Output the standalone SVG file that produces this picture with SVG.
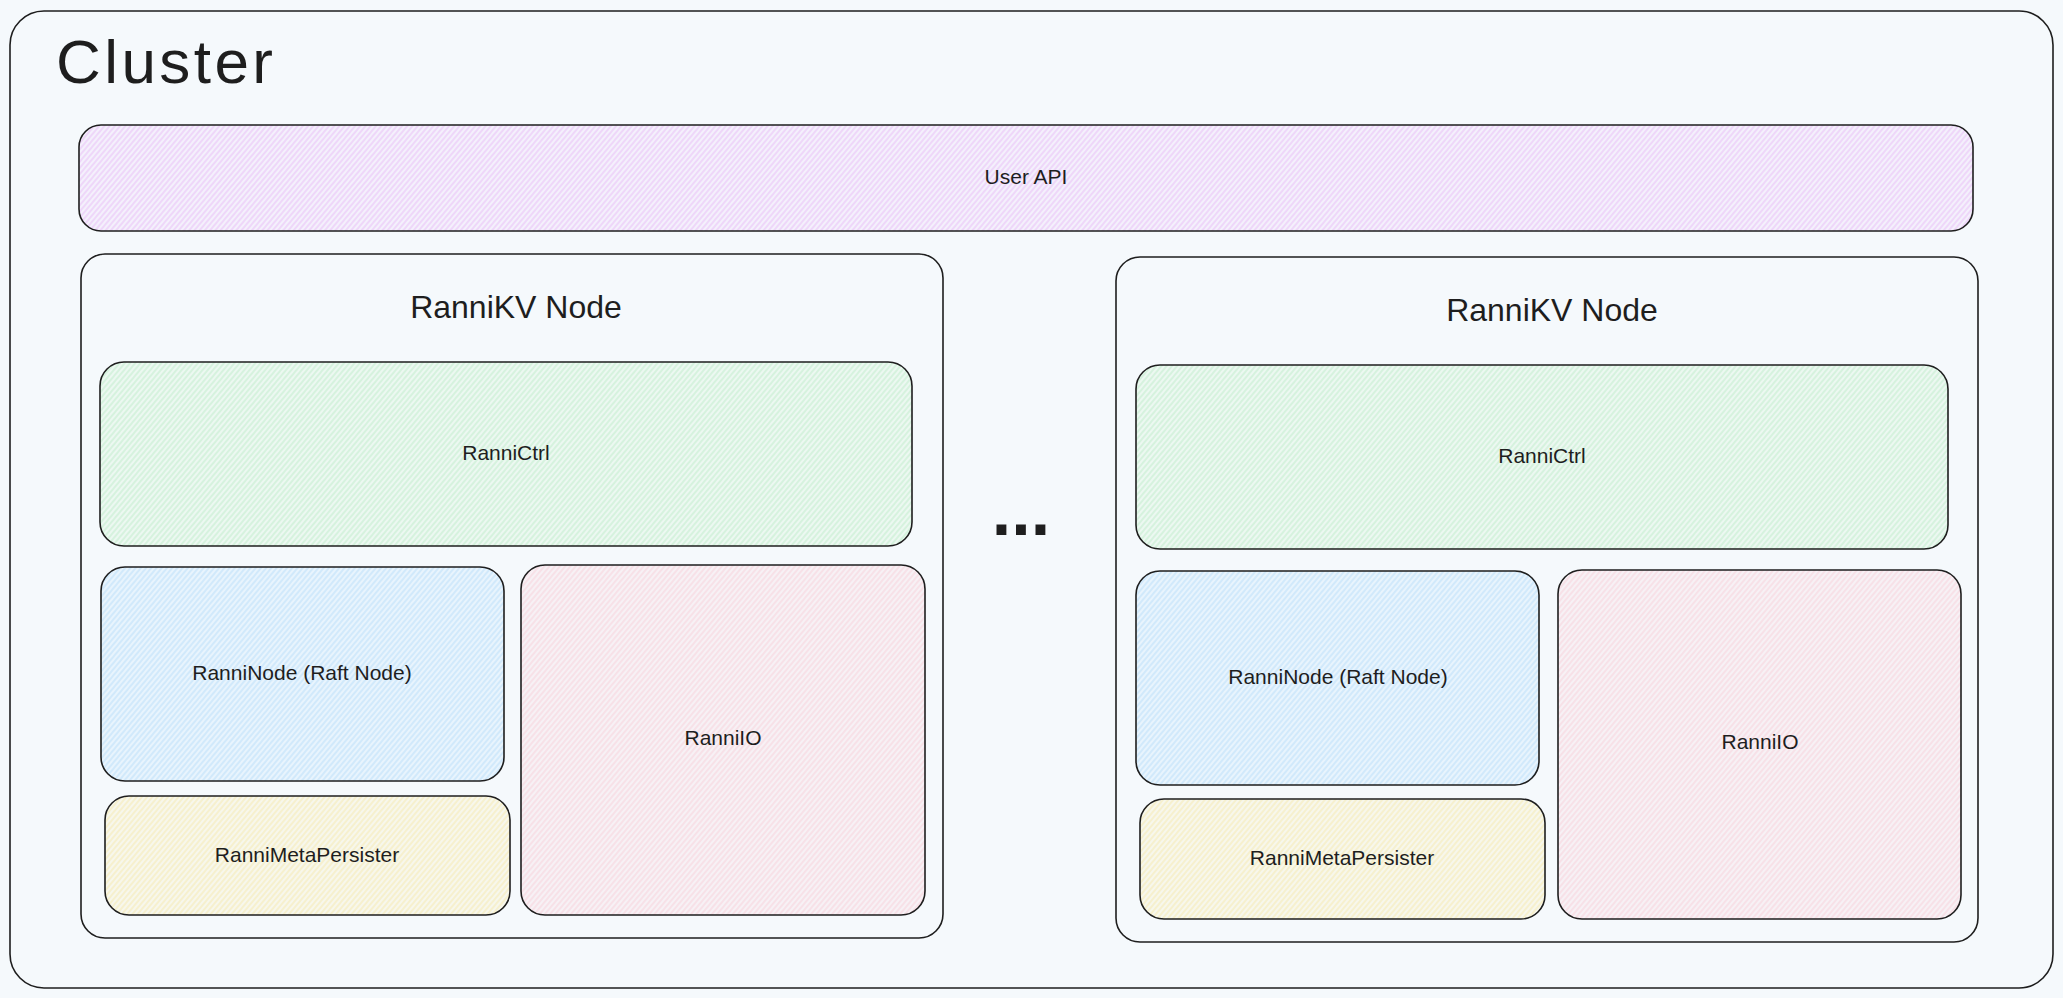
<svg xmlns="http://www.w3.org/2000/svg" width="2063" height="998" viewBox="0 0 2063 998">
  <style>
    .box { stroke: #1e1e1e; stroke-width: 1.6; }
    .frame { fill: none; stroke: #1e1e1e; stroke-width: 1.6; }
    .lbl { font-family: "Liberation Sans", Arial, sans-serif; font-size: 21px; fill: #1e1e1e; text-anchor: middle; }
    .title { font-family: "Liberation Sans", Arial, sans-serif; font-size: 32px; fill: #1e1e1e; text-anchor: middle; }
    .big { font-family: "Liberation Sans", Arial, sans-serif; font-size: 62px; fill: #1e1e1e; }
    .dots { font-family: "Liberation Sans", Arial, sans-serif; font-size: 70px; font-weight: bold; fill: #1e1e1e; text-anchor: middle; }
  </style>
  <defs>
    <pattern id="hPurple" patternUnits="userSpaceOnUse" width="4" height="4" patternTransform="rotate(40)">
      <rect width="4" height="4" fill="#f4f0fc"/>
      <line x1="1" y1="0" x2="1" y2="4" stroke="#e9c3f7" stroke-width="1.1"/>
    </pattern>
    <pattern id="hGreen" patternUnits="userSpaceOnUse" width="4" height="4" patternTransform="rotate(40)">
      <rect width="4" height="4" fill="#ecf8f1"/>
      <line x1="1" y1="0" x2="1" y2="4" stroke="#c4eecf" stroke-width="1.1"/>
    </pattern>
    <pattern id="hBlue" patternUnits="userSpaceOnUse" width="4" height="4" patternTransform="rotate(40)">
      <rect width="4" height="4" fill="#e8f4fd"/>
      <line x1="1" y1="0" x2="1" y2="4" stroke="#bfe1fb" stroke-width="1.1"/>
    </pattern>
    <pattern id="hPink" patternUnits="userSpaceOnUse" width="4" height="4" patternTransform="rotate(40)">
      <rect width="4" height="4" fill="#f7f1f5"/>
      <line x1="1" y1="0" x2="1" y2="4" stroke="#f7d4dd" stroke-width="1.1"/>
    </pattern>
    <pattern id="hYellow" patternUnits="userSpaceOnUse" width="4" height="4" patternTransform="rotate(40)">
      <rect width="4" height="4" fill="#f7f7ec"/>
      <line x1="1" y1="0" x2="1" y2="4" stroke="#f6ebb6" stroke-width="1.1"/>
    </pattern>
  </defs>

  <rect x="0" y="0" width="2063" height="998" fill="#f5f9fc"/>

  <g id="cluster">
    <rect class="frame" x="10" y="11" width="2043" height="977" rx="34"/>
    <text class="big" x="56" y="83" textLength="217" lengthAdjust="spacing">Cluster</text>
  </g>

  <g id="user-api">
    <rect class="box" x="79" y="125" width="1894" height="106" rx="22" fill="url(#hPurple)"/>
    <text class="lbl" x="1026" y="184">User API</text>
  </g>

  <g id="node-1">
    <rect class="frame" x="81" y="254" width="862" height="684" rx="24"/>
    <text class="title" x="516" y="318">RanniKV Node</text>
    <g id="node-1-ctrl">
      <rect class="box" x="100" y="362" width="812" height="184" rx="24" fill="url(#hGreen)"/>
      <text class="lbl" x="506" y="460">RanniCtrl</text>
    </g>
    <g id="node-1-raft">
      <rect class="box" x="101" y="567" width="403" height="214" rx="24" fill="url(#hBlue)"/>
      <text class="lbl" x="302" y="680">RanniNode (Raft Node)</text>
    </g>
    <g id="node-1-meta">
      <rect class="box" x="105" y="796" width="405" height="119" rx="24" fill="url(#hYellow)"/>
      <text class="lbl" x="307" y="862">RanniMetaPersister</text>
    </g>
    <g id="node-1-io">
      <rect class="box" x="521" y="565" width="404" height="350" rx="24" fill="url(#hPink)"/>
      <text class="lbl" x="723" y="745">RanniIO</text>
    </g>
  </g>

  <g id="ellipsis">
    <text class="dots" x="1021" y="535">...</text>
  </g>

  <g id="node-2">
    <rect class="frame" x="1116" y="257" width="862" height="685" rx="24"/>
    <text class="title" x="1552" y="321">RanniKV Node</text>
    <g id="node-2-ctrl">
      <rect class="box" x="1136" y="365" width="812" height="184" rx="24" fill="url(#hGreen)"/>
      <text class="lbl" x="1542" y="463">RanniCtrl</text>
    </g>
    <g id="node-2-raft">
      <rect class="box" x="1136" y="571" width="403" height="214" rx="24" fill="url(#hBlue)"/>
      <text class="lbl" x="1338" y="684">RanniNode (Raft Node)</text>
    </g>
    <g id="node-2-meta">
      <rect class="box" x="1140" y="799" width="405" height="120" rx="24" fill="url(#hYellow)"/>
      <text class="lbl" x="1342" y="865">RanniMetaPersister</text>
    </g>
    <g id="node-2-io">
      <rect class="box" x="1558" y="570" width="403" height="349" rx="24" fill="url(#hPink)"/>
      <text class="lbl" x="1760" y="749">RanniIO</text>
    </g>
  </g>

  <g id="connectors"/>
</svg>
